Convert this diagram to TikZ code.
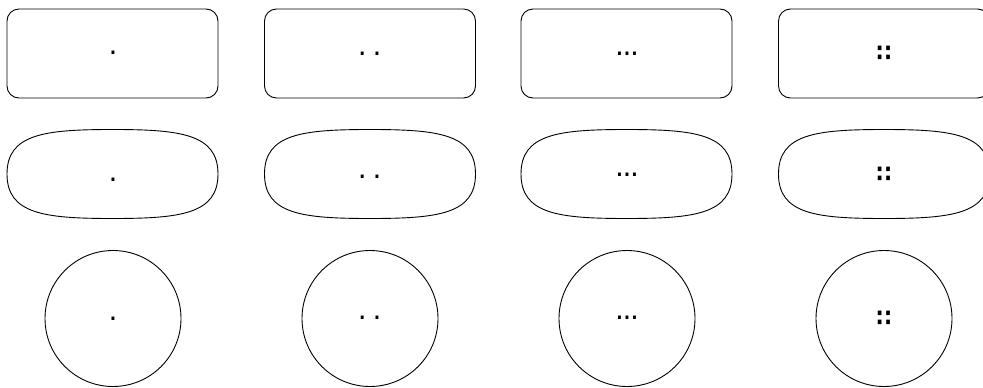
\documentclass[tikz,border=0pt]{standalone}
\usepackage{fontspec}
\usepackage{graphicx}
\newfontfamily\dotfont{DejaVu Sans}
\begin{document}
\begin{tikzpicture}[x=1pt,y=-1pt,
  shapeline/.style={draw=black,line width=0.9pt},
  rbox/.style={shapeline,rectangle,rounded corners=12pt,minimum width=211pt,minimum height=89pt,inner sep=0pt},
  cbox/.style={shapeline,circle,minimum size=136pt,inner sep=0pt},
  dotlabel/.style={inner sep=0pt,anchor=base,font=\dotfont\fontsize{28pt}{28pt}\selectfont},
  blob/.pic={\draw[shapeline] (-105.5,0) .. controls (-105.5,-40) and (-68,-44.5) .. (0,-44.5) .. controls (68,-44.5) and (105.5,-40) .. (105.5,0) .. controls (105.5,40) and (68,44.5) .. (0,44.5) .. controls (-68,44.5) and (-105.5,40) .. cycle;}
]
\useasboundingbox (0,0) rectangle (983,388);
\clip (0,0) rectangle (983,388);
\newcommand\onedot[1]{\makebox[#1pt]{·}}
\newcommand\twodots{\onedot{15}\onedot{15}}
\newcommand\threedots{\onedot{7.5}\onedot{7.5}\onedot{7.5}}
\newcommand\fourdots{\scalebox{0.75}[0.85]{\bfseries ∷}}
% row 1
\node[rbox] (r1) at (112.5,53.5) {};
\node[rbox] (r2) at (370,53.5) {};
\node[rbox] (r3) at (626.5,53.5) {};
\node[rbox] (r4) at (884,53.5) {};
% row 2
\pic (b1) at (112.5,174) {blob};
\pic (b2) at (370,174) {blob};
\pic (b3) at (626.5,174) {blob};
\pic (b4) at (884,174) {blob};
% row 3
\node[cbox] (c1) at (113,318.5) {};
\node[cbox] (c2) at (370,318.5) {};
\node[cbox] (c3) at (627,318.5) {};
\node[cbox] (c4) at (884,318.5) {};
% labels
\node[dotlabel] (l11) at (113,62.8) {\onedot{7.5}};
\node[dotlabel] (l12) at (369.7,63.3) {\twodots};
\node[dotlabel] (l13) at (627,63.3) {\threedots};
\node[dotlabel] (l14) at (884,61.5) {\fourdots};
\node[dotlabel] (l21) at (113,189.3) {\onedot{7.5}};
\node[dotlabel] (l22) at (369.7,186) {\twodots};
\node[dotlabel] (l23) at (627,184) {\threedots};
\node[dotlabel] (l24) at (884,182.6) {\fourdots};
\node[dotlabel] (l31) at (113,328.3) {\onedot{7.5}};
\node[dotlabel] (l32) at (369.7,327.6) {\twodots};
\node[dotlabel] (l33) at (627,327.6) {\threedots};
\node[dotlabel] (l34) at (884,326.3) {\fourdots};
\end{tikzpicture}
\end{document}
